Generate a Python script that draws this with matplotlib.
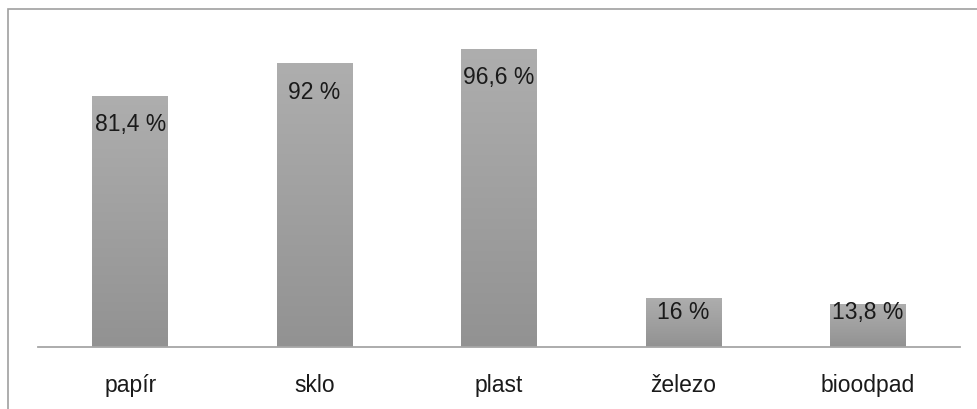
import matplotlib.pyplot as plt
import numpy as np
from matplotlib.colors import LinearSegmentedColormap
from matplotlib.patches import Rectangle

categories = ["papír", "sklo", "plast", "železo", "bioodpad"]
values = [81.4, 92.0, 96.6, 16.0, 13.8]
value_labels = ["81,4 %", "92 %", "96,6 %", "16 %", "13,8 %"]

TEXT = "#1A1A1A"
AXIS_GRAY = "#A6A6A6"
BORDER = "#A0A0A0"

plt.rcParams["font.family"] = ["Liberation Sans", "DejaVu Sans"]

fig = plt.figure(figsize=(9.78, 4.10), dpi=100)
fig.patches.append(
    Rectangle((8 / 978, -0.1), 1.2, 1 - 10 / 410 + 0.1, transform=fig.transFigure,
              fill=False, edgecolor=BORDER, linewidth=1.2)
)
ax = fig.add_axes([38 / 978, 1 - 348 / 410, (960 - 38) / 978, (348 - 39.5) / 410])

x = np.arange(len(categories))
bars = ax.bar(x, values, width=0.41, color="none", edgecolor="none")

cmap = LinearSegmentedColormap.from_list("bar", ["#929292", "#AEAEAE"])
grad = np.linspace(0, 1, 256).reshape(-1, 1)
for bar in bars:
    x0, w, h = bar.get_x(), bar.get_width(), bar.get_height()
    im = ax.imshow(grad, cmap=cmap, origin="lower", aspect="auto",
                   extent=(x0, x0 + w, 0, h), zorder=2)
    im.set_clip_path(bar)

ax.set_xlim(-0.5, len(categories) - 0.5)
ax.set_ylim(0, 100)

# inside-end labels, kept clear of the baseline on short bars
px_per_unit = ax.bbox.height / 100
for xi, v, lab in zip(x, values, value_labels):
    y = max(v - 28 / px_per_unit, 35 / px_per_unit)
    ax.text(xi, y, lab, ha="center", va="center", fontsize=16.5, color=TEXT, zorder=3)

ax.set_xticks(x)
ax.set_xticklabels(categories, fontsize=16.5, color=TEXT)
ax.tick_params(axis="x", length=0, pad=19)
ax.set_yticks([])
for side in ["top", "right", "left"]:
    ax.spines[side].set_visible(False)
ax.spines["bottom"].set_color(AXIS_GRAY)
ax.spines["bottom"].set_linewidth(1.3)
ax.spines["bottom"].set_zorder(4)

fig.savefig("out.png", dpi=100)
